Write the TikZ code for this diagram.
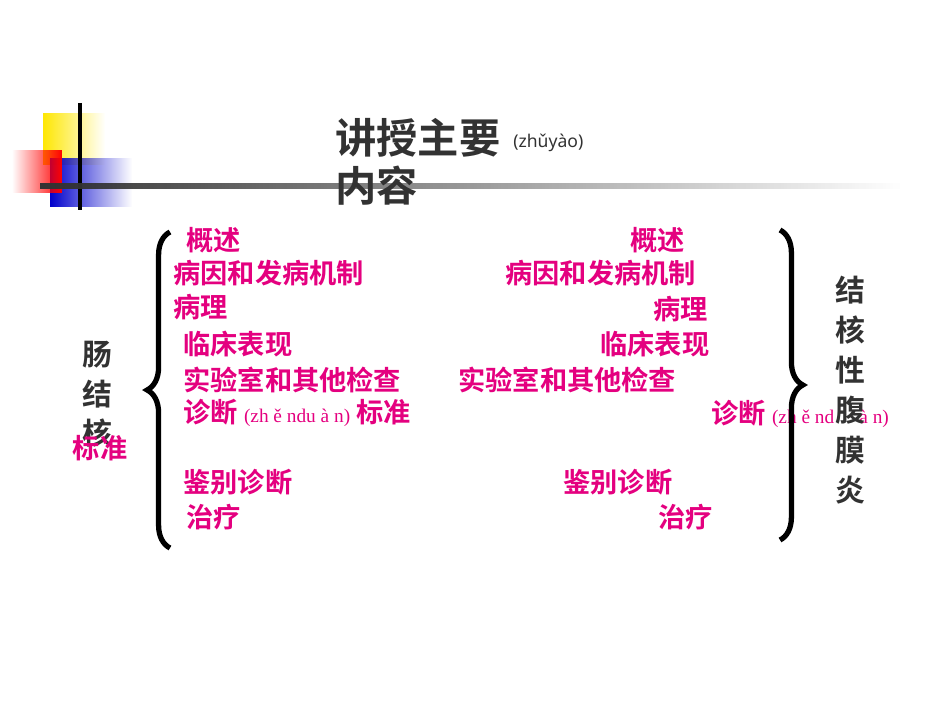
\documentclass[tikz,border=0pt]{standalone}
\usepackage{fontspec}
\setmainfont{Liberation Serif}
\newfontfamily\cjk{Noto Sans CJK SC Bold}
\newfontfamily\latinsans{Noto Sans}
\newcommand{\pyfont}{\rmfamily\fontsize{11}{13}\selectfont}
\usetikzlibrary{positioning,decorations.pathreplacing,fadings}
\definecolor{rose}{RGB}{228,0,127}
\definecolor{titlegray}{RGB}{50,50,50}
\tikzset{
  item/.style={anchor=west,inner sep=0pt,text=rose,font=\cjk\fontsize{15.5}{17}\selectfont},
  side/.style={inner sep=0pt,text=titlegray,font=\cjk\fontsize{17}{19}\selectfont},
  heading/.style={anchor=west,inner sep=0pt,text=titlegray,font=\cjk\fontsize{23.5}{26}\selectfont},
  bracket/.style={line width=3pt,decorate,decoration={brace,amplitude=13pt}}
}
\begin{document}
\begin{tikzpicture}[x=0.02cm,y=-0.02cm]
\useasboundingbox (0,0) rectangle (950,713);
% corner decoration
\fill[yellow!90!orange,path fading=east] (43,113) rectangle (105,165);
\fill[blue!80!black,path fading=east] (50,158) rectangle (132,207);
\fill[red,path fading=west] (12,150) rectangle (62,193);
\draw[line width=2pt] (80,103) -- (80,210);
\draw[line width=3pt,black!80,path fading=east] (40,186) -- (900,186);
% title
\node[heading] (title1) at (335,138) {讲授主要};
\node[anchor=west,inner sep=0pt,text=titlegray,font=\latinsans\fontsize{10}{12}\selectfont] (tpin) at (513,143) {(zhǔyào)};
\node[heading] (title2) at (335,186) {内容};
% left column
\node[item] (l1) at (186,240) {概述};
\node[item] (l2) at (173,273) {病因和发病机制};
\node[item] (l3) at (173,307) {病理};
\node[item] (l4) at (183,344) {临床表现};
\node[item] (l5) at (183,380) {实验室和其他检查};
\node[item] (l6) at (183,413) {诊断 {\pyfont (zh ě ndu à n)} 标准};
\node[item] (l7) at (183,482) {鉴别诊断};
\node[item] (l8) at (186,517) {治疗};
% right column
\node[item] (r1) at (630,240) {概述};
\node[item] (r2) at (505,273) {病因和发病机制};
\node[item] (r3) at (653,309) {病理};
\node[item] (r4) at (600,344) {临床表现};
\node[item] (r5) at (458,380) {实验室和其他检查};
\node[item] (r6) at (711,414) {诊断 {\pyfont (zh ě nd\hspace{1.3em}à n)}};
\node[item] (r7) at (563,482) {鉴别诊断};
\node[item] (r8) at (658,517) {治疗};
% side labels
\node[side] (a1) at (97,355) {肠};
\node[side] (a2) at (97,394) {结};
\node[side] (a3) at (97,433) {核};
\node[item,anchor=center] (a4) at (100,448) {标准};
\foreach \ch [count=\i] in {结,核,性,腹,膜,炎}
  \node[side] (b\i) at (850,250+\i*40) {\ch};
% braces
\draw[bracket] (170,548) -- (170,232);
\draw[bracket] (780,230) -- (780,540);
\end{tikzpicture}
\end{document}
